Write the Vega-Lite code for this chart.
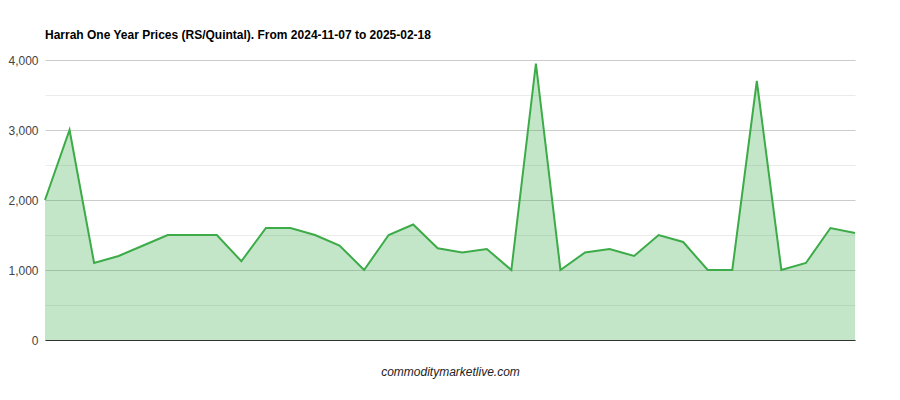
{
  "$schema": "https://vega.github.io/schema/vega-lite/v6.json",
  "width": 810,
  "height": 280,
  "autosize": {"type": "none"},
  "padding": {"left": 45, "top": 60, "right": 45, "bottom": 60},
  "background": "white",
  "title": {
    "text": "Harrah One Year Prices (RS/Quintal). From 2024-11-07 to 2025-02-18",
    "anchor": "start",
    "frame": "group",
    "font": "Liberation Sans",
    "fontSize": 12,
    "fontWeight": "bold",
    "color": "#000000",
    "offset": 12
  },
  "config": {
    "view": {"stroke": null},
    "font": "Liberation Sans"
  },
  "data": {
    "values": [
      {"i": 0, "price": 2000},
      {"i": 1, "price": 3000},
      {"i": 2, "price": 1100},
      {"i": 3, "price": 1200},
      {"i": 4, "price": 1350},
      {"i": 5, "price": 1500},
      {"i": 6, "price": 1500},
      {"i": 7, "price": 1500},
      {"i": 8, "price": 1125},
      {"i": 9, "price": 1600},
      {"i": 10, "price": 1600},
      {"i": 11, "price": 1500},
      {"i": 12, "price": 1350},
      {"i": 13, "price": 1000},
      {"i": 14, "price": 1500},
      {"i": 15, "price": 1650},
      {"i": 16, "price": 1310},
      {"i": 17, "price": 1250},
      {"i": 18, "price": 1300},
      {"i": 19, "price": 1000},
      {"i": 20, "price": 3950},
      {"i": 21, "price": 1000},
      {"i": 22, "price": 1250},
      {"i": 23, "price": 1300},
      {"i": 24, "price": 1200},
      {"i": 25, "price": 1500},
      {"i": 26, "price": 1400},
      {"i": 27, "price": 1000},
      {"i": 28, "price": 1000},
      {"i": 29, "price": 3700},
      {"i": 30, "price": 1000},
      {"i": 31, "price": 1100},
      {"i": 32, "price": 1600},
      {"i": 33, "price": 1530}
    ]
  },
  "encoding": {
    "x": {
      "field": "i",
      "type": "quantitative",
      "scale": {"domain": [0, 33], "nice": false, "zero": false},
      "axis": {
        "title": "commoditymarketlive.com",
        "titleFont": "Liberation Sans",
        "titleFontStyle": "italic",
        "titleFontWeight": "normal",
        "titleFontSize": 12,
        "titleColor": "#222222",
        "titlePadding": 26,
        "labels": false,
        "ticks": false,
        "grid": false,
        "domain": true,
        "domainColor": "#333333",
        "domainWidth": 1
      }
    },
    "y": {
      "field": "price",
      "type": "quantitative",
      "scale": {"domain": [0, 4000], "nice": false},
      "axis": {
        "title": null,
        "values": [0, 500, 1000, 1500, 2000, 2500, 3000, 3500, 4000],
        "labelExpr": "datum.value % 1000 === 0 ? format(datum.value, ',') : ''",
        "labelFont": "Liberation Sans",
        "labelFontSize": 12,
        "labelColor": "#444444",
        "labelPadding": 7,
        "ticks": false,
        "domain": false,
        "grid": true,
        "gridColor": {"condition": {"test": "datum.value % 1000 === 0", "value": "#cccccc"}, "value": "#ebebeb"},
        "gridWidth": 1
      }
    }
  },
  "layer": [
    {
      "mark": {"type": "area", "color": "#3cab48", "opacity": 0.3}
    },
    {
      "mark": {"type": "line", "color": "#3cab48", "strokeWidth": 2}
    }
  ]
}
